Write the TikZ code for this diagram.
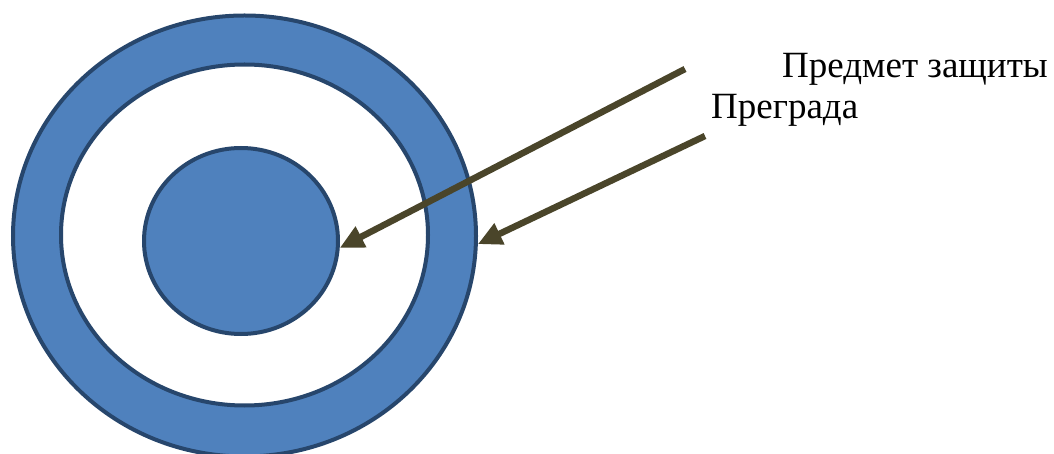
\documentclass[tikz,border=0pt]{standalone}
\usepackage{fontspec}
\setmainfont{Liberation Serif}
\usetikzlibrary{arrows.meta,shapes.geometric}
\definecolor{ringblue}{HTML}{4F81BD}
\definecolor{ringline}{HTML}{27466C}
\definecolor{olive}{HTML}{4A452A}
\begin{document}
\begin{tikzpicture}[x=1pt,y=-1pt,
ring/.style={ellipse,draw=ringline,line width=4pt,inner sep=0pt},
pointer/.style={olive,line width=6.5pt,-{Triangle[length=24pt,width=22pt]}},
label/.style={anchor=base west,font=\rmfamily\fontsize{37}{42}\selectfont,inner sep=0pt}]
\useasboundingbox (0,0) rectangle (1054,454);
\node[ring,fill=ringblue,minimum width=463pt,minimum height=441pt] (outer) at (244.5,236) {};
\node[ring,fill=white,minimum width=367pt,minimum height=341pt] (gap) at (244.5,235) {};
\node[ring,fill=ringblue,minimum width=194pt,minimum height=186pt] (core) at (241,241) {};
\coordinate (s1) at (685,69);
\coordinate (s2) at (705,136);
\draw[pointer] (s1)--(core.-4);
\draw[pointer] (s2)--(outer.-2);
\node[label] (subject) at (782,78) {Предмет защиты};
\node[label] (barrier) at (711,119) {Преграда};
\end{tikzpicture}
\end{document}
